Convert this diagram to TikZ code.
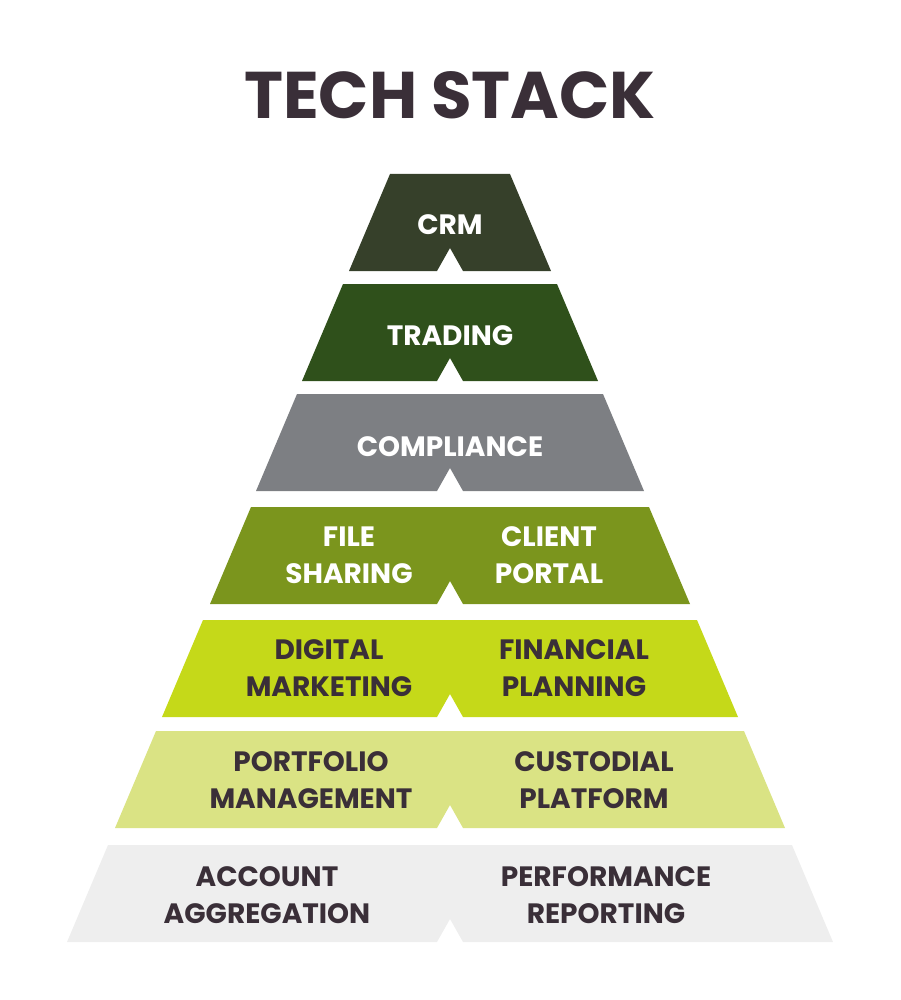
\documentclass[tikz,border=0pt]{standalone}
\usepackage{fontspec}
\setmainfont{Poppins}
\usetikzlibrary{positioning}
\definecolor{crmcol}{RGB}{54,64,42}
\definecolor{tradecol}{RGB}{47,80,27}
\definecolor{compcol}{RGB}{125,127,131}
\definecolor{filecol}{RGB}{123,149,29}
\definecolor{digicol}{RGB}{197,217,25}
\definecolor{portcol}{RGB}{218,227,132}
\definecolor{acctcol}{RGB}{238,238,238}
\definecolor{inkcol}{RGB}{58,47,56}
% #1 top, #2 half width at the bottom, #3 colour
\newcommand{\stacktier}[3]{%
\fill[#3] (450-#2+41,#1) -- (450+#2-41,#1) -- (450+#2,#1+97) -- (463,#1+97)
  -- (450,#1+74) -- (437,#1+97) -- (450-#2,#1+97) -- cycle;}

\begin{document}
\begin{tikzpicture}[x=1pt,y=-1pt,
  lbl/.style={align=center,inner sep=0pt,font=\bfseries\fontsize{28}{37}\selectfont},
  light/.style={lbl,text=white},
  dark/.style={lbl,text=inkcol}]
\useasboundingbox (0,0) rectangle (900,1000);
\node[text=inkcol,inner sep=0pt,font=\bfseries\fontsize{66}{72}\selectfont] (title) at (450,95) {TECH STACK};
\stacktier{174}{101}{crmcol}
\stacktier{284}{148}{tradecol}
\stacktier{394}{194}{compcol}
\stacktier{507}{240}{filecol}
\stacktier{620}{288}{digicol}
\stacktier{731}{335}{portcol}
\stacktier{845}{383}{acctcol}
\node[light] (crm) at (450,225) {CRM};
\node[light] (trading) at (450,336) {TRADING};
\node[light] (compliance) at (450,447) {COMPLIANCE};
\node[light] (files) at (349,555) {FILE\\SHARING};
\node[light] (portal) at (549,555) {CLIENT\\PORTAL};
\node[dark] (digital) at (329,668) {DIGITAL\\MARKETING};
\node[dark] (planning) at (574,668) {FINANCIAL\\PLANNING};
\node[dark] (portfolio) at (311,780) {PORTFOLIO\\MANAGEMENT};
\node[dark] (custody) at (594,780) {CUSTODIAL\\PLATFORM};
\node[dark] (account) at (267,895) {ACCOUNT\\AGGREGATION};
\node[dark] (reporting) at (606,895) {PERFORMANCE\\REPORTING};
\end{tikzpicture}
\end{document}
